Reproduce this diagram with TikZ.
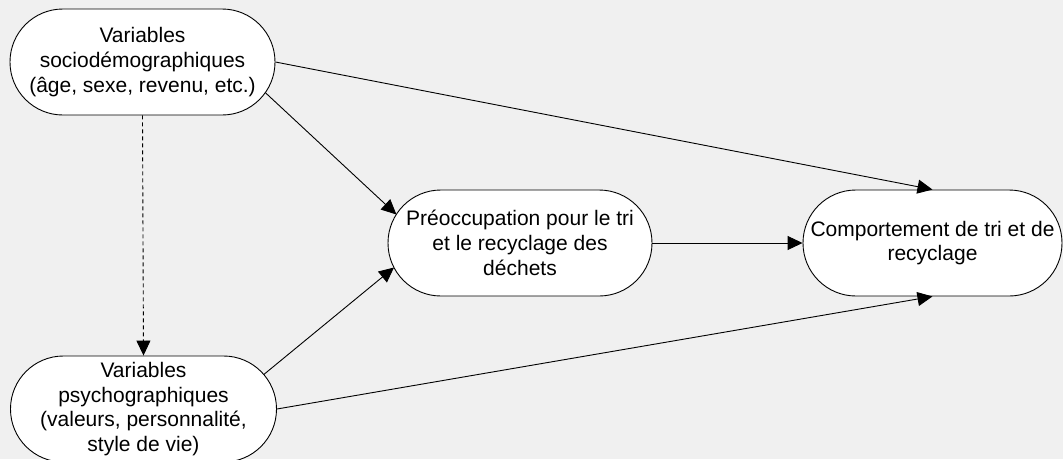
\documentclass[tikz,border=0pt]{standalone}
\usepackage{fontspec}
\setmainfont{Liberation Sans}
\usetikzlibrary{calc,arrows.meta}
\definecolor{bg}{HTML}{F0F0F0}
\begin{document}
\begin{tikzpicture}[x=1pt,y=-1pt,
  box/.style={rectangle, rounded corners=52.9pt, draw=black, fill=white, line width=0.9pt,
    minimum height=106pt, inner sep=0pt, align=center,
    font=\fontsize{21}{24.7}\selectfont},
  conn/.style={line width=0.9pt, -{Triangle[length=15pt,width=14pt]}},
  dashconn/.style={conn, dash pattern=on 4pt off 3pt}]
\useasboundingbox (0,0) rectangle (1063,459);
\fill[bg] (0,0) rectangle (1063,459);
\clip (0,0) rectangle (1063,459);
\node[box, minimum width=265pt] (A) at (142.5,62) {Variables\\sociodémographiques\\(âge, sexe, revenu, etc.)};
\node[box, minimum width=266pt] (B) at (143.5,409) {Variables\\psychographiques\\(valeurs, personnalité,\\style de vie)};
\node[box, minimum width=264pt] (C) at (520,243) {Préoccupation pour le tri\\et le recyclage des\\déchets};
\node[box, minimum width=259pt] (D) at (932.5,243) {Comportement de tri et de\\recyclage};
\coordinate (a1) at ($(A.center)+(122.8,30.6)$);
\coordinate (c1) at ($(C.center)+(-123.6,-28.5)$);
\coordinate (b1) at ($(B.center)+(120.3,-34.5)$);
\coordinate (c2) at ($(C.center)+(-126,24.5)$);
\draw[conn] (A.east) -- (D.north);
\draw[conn] (a1) -- (c1);
\draw[dashconn] (A.south) -- (B.north);
\draw[conn] (b1) -- (c2);
\draw[conn] (B.east) -- (D.south);
\draw[conn] (C.east) -- (D.west);
\end{tikzpicture}
\end{document}
